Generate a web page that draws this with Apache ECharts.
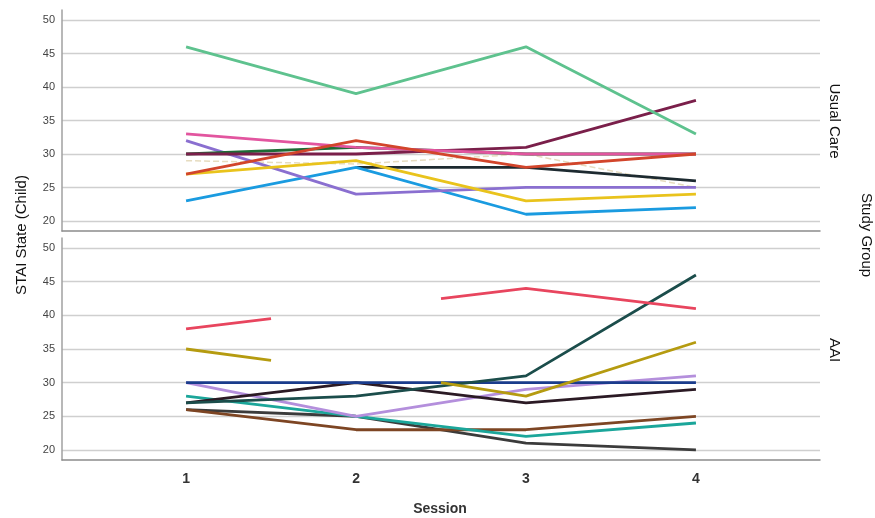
<!DOCTYPE html>
<html><head><meta charset="utf-8">
<script src="https://cdn.jsdelivr.net/npm/echarts@6/dist/echarts.min.js"></script>
<style>html,body{margin:0;padding:0;background:#fff}#c{width:875px;height:518px}</style>
</head><body><div id="c"></div>
<script>
const sessions = [1, 2, 3, 4];
const yTicks = [20, 25, 30, 35, 40, 45, 50];
const panelLabels = ['Usual Care', 'AAI'];

// Usual Care participants (null = missing)
const ucGreen    = [46, 39, 46, 33];
const ucBeige    = [29, 28.5, 30, 25];
const ucDkGreen  = [30, 31, 30, 30];
const ucMaroon   = [30, 30, 31, 38];
const ucPink     = [33, 31, 30, 30];
const ucPurple   = [32, 24, 25, 25];
const ucRed      = [27, 32, 28, 30];
const ucYellow   = [27, 29, 23, 24];
const ucBlue     = [23, 28, 21, 22];
const ucBlack    = [null, 28, 28, 26];

// AAI participants; lines with a missing session 2 drawn as half segments
const halfX = [1, 1.5, 2, 2.5, 3, 4];
const aaiRed     = [38, 39.5, null, 42.5, 44, 41];
const aaiOlive   = [35, 33.3, null, 30, 28, 36];
const aaiDkTeal  = [27, 28, 31, 46];
const aaiNavy    = [30, 30, 30, 30];
const aaiBlkMar  = [27, 30, 27, 29];
const aaiLav     = [30, 25, 29, 31];
const aaiTeal    = [28, 25, 22, 24];
const aaiBrown   = [26, 23, 23, 25];
const aaiGray    = [26, 25, 21, 20];

function pts(xs, ys) { return xs.map((x, i) => [x, ys[i] == null ? '-' : ys[i]]); }

const topSeries = [
  [ucBeige, '#e6dcbf', 'dashed', 1.5],
  [ucBlack, '#1d2a30'],
  [ucBlue, '#1a9be0'],
  [ucPurple, '#8a6fd0'],
  [ucYellow, '#e9c31c'],
  [ucDkGreen, '#1d6b35'],
  [ucMaroon, '#7a1f4a'],
  [ucPink, '#e2559f'],
  [ucRed, '#d2452b'],
  [ucGreen, '#5ec28e']
];
const botSeries = [
  [aaiGray, '#3b3b3b', sessions],
  [aaiBrown, '#7d4523', sessions],
  [aaiTeal, '#1ba69a', sessions],
  [aaiLav, '#b48fdc', sessions],
  [aaiBlkMar, '#2b1a24', sessions],
  [aaiNavy, '#1a3c8c', sessions],
  [aaiDkTeal, '#1b4d4b', sessions],
  [aaiOlive, '#b59b10', halfX],
  [aaiRed, '#e8455e', halfX]
];

const series = [];
topSeries.forEach(s => series.push({
  type: 'line', xAxisIndex: 0, yAxisIndex: 0, symbol: 'none', silent: true,
  data: pts(sessions, s[0]),
  lineStyle: { color: s[1], width: s[3] || 2.8, type: s[2] || 'solid' }
}));
botSeries.forEach(s => series.push({
  type: 'line', xAxisIndex: 1, yAxisIndex: 1, symbol: 'none', silent: true,
  data: pts(s[2], s[0]),
  lineStyle: { color: s[1], width: 2.8, type: 'solid' }
}));

function xAx(gi, showLabels) {
  return {
    type: 'value', gridIndex: gi, min: 0.27, max: 4.73,
    axisLine: { show: true, onZero: false, lineStyle: { color: '#8c8c8c', width: 1.5 } },
    axisTick: { show: false, customValues: sessions },
    splitLine: { show: false },
    axisLabel: { show: showLabels, customValues: sessions, color: '#333', fontSize: 14, fontWeight: 'bold', margin: 12, fontFamily: 'Liberation Sans' }
  };
}
function yAx(gi) {
  return {
    type: 'value', gridIndex: gi, min: 18.5, max: 51.5,
    axisLine: { show: true, lineStyle: { color: '#a0a0a0', width: 1.5 } },
    axisTick: { show: false, customValues: yTicks },
    axisLabel: { customValues: yTicks, color: '#444', fontSize: 11, margin: 7, fontFamily: 'Liberation Sans' },
    splitLine: { show: true, lineStyle: { color: '#cfcfcf', width: 1.3 } }
  };
}

const chart = echarts.init(document.getElementById('c'));
chart.setOption({
  animation: false,
  grid: [
    { left: 62, right: 55, top: 10, height: 221 },
    { left: 62, right: 55, top: 238, height: 222 }
  ],
  xAxis: [xAx(0, false), xAx(1, true)],
  yAxis: [yAx(0), yAx(1)],
  series: series,
  graphic: [
    { type: 'text', x: 22, y: 235, rotation: Math.PI / 2,
      style: { text: 'STAI State (Child)', fill: '#111', font: '15px "Liberation Sans"', textAlign: 'center', textVerticalAlign: 'middle' } },
    { type: 'text', x: 440, y: 509,
      style: { text: 'Session', fill: '#333', font: 'bold 14px "Liberation Sans"', textAlign: 'center', textVerticalAlign: 'middle' } },
    { type: 'text', x: 834, y: 121, rotation: -Math.PI / 2,
      style: { text: panelLabels[0], fill: '#111', font: '15px "Liberation Sans"', textAlign: 'center', textVerticalAlign: 'middle' } },
    { type: 'text', x: 834, y: 350, rotation: -Math.PI / 2,
      style: { text: panelLabels[1], fill: '#111', font: '15px "Liberation Sans"', textAlign: 'center', textVerticalAlign: 'middle' } },
    { type: 'text', x: 866, y: 235, rotation: -Math.PI / 2,
      style: { text: 'Study Group', fill: '#111', font: '15px "Liberation Sans"', textAlign: 'center', textVerticalAlign: 'middle' } }
  ]
});
</script></body></html>
